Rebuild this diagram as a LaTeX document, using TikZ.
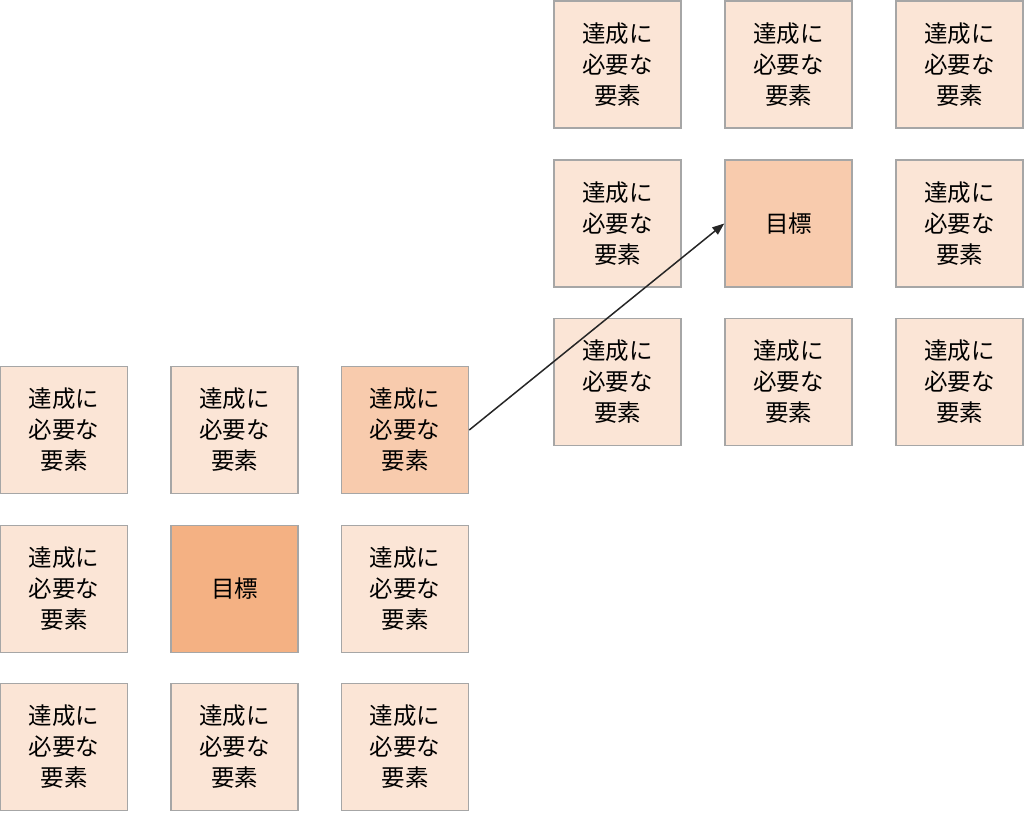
\documentclass[tikz,border=0pt]{standalone}
\usepackage{fontspec}
\setmainfont{Noto Sans CJK JP}
\usetikzlibrary{arrows.meta}
\definecolor{lightc}{HTML}{FBE5D6}
\definecolor{midc}{HTML}{F8CBAD}
\definecolor{darkc}{HTML}{F4B183}
\definecolor{edgec}{HTML}{A6A6A6}
\tikzset{
  cell/.style={draw=edgec, line width=1.5pt, minimum width=127pt, minimum height=127pt,
    inner sep=0pt, align=center, font=\fontsize{23.5}{31}\selectfont, text=black},
  elem/.style={cell, fill=lightc},
  mid/.style={cell, fill=midc},
  goal/.style={cell, fill=darkc},
}
\newcommand{\elemtext}{達成に\\必要な\\要素}
\begin{document}
\begin{tikzpicture}[x=1pt,y=-1pt]
\useasboundingbox (0,0) rectangle (1024,813);
% left grid
\node[elem] (l11) at (64,430) {\elemtext};
\node[elem] (l12) at (234.5,430) {\elemtext};
\node[mid]  (l13) at (405,430) {\elemtext};
\node[elem] (l21) at (64,589) {\elemtext};
\node[goal] (l22) at (234.5,589) {目標};
\node[elem] (l23) at (405,589) {\elemtext};
\node[elem] (l31) at (64,747) {\elemtext};
\node[elem] (l32) at (234.5,747) {\elemtext};
\node[elem] (l33) at (405,747) {\elemtext};
% right grid
\node[elem] (r11) at (617.5,64.5) {\elemtext};
\node[elem] (r12) at (788.5,64.5) {\elemtext};
\node[elem] (r13) at (959.5,64.5) {\elemtext};
\node[elem] (r21) at (617.5,223.5) {\elemtext};
\node[mid]  (r22) at (788.5,223.5) {目標};
\node[elem] (r23) at (959.5,223.5) {\elemtext};
\node[elem] (r31) at (617.5,382) {\elemtext};
\node[elem] (r32) at (788.5,382) {\elemtext};
\node[elem] (r33) at (959.5,382) {\elemtext};
\draw[line width=1.5pt, black!85, -{Stealth[length=12pt,width=9pt,inset=0pt]}] (l13.east) -- (r22.west);
\end{tikzpicture}
\end{document}
